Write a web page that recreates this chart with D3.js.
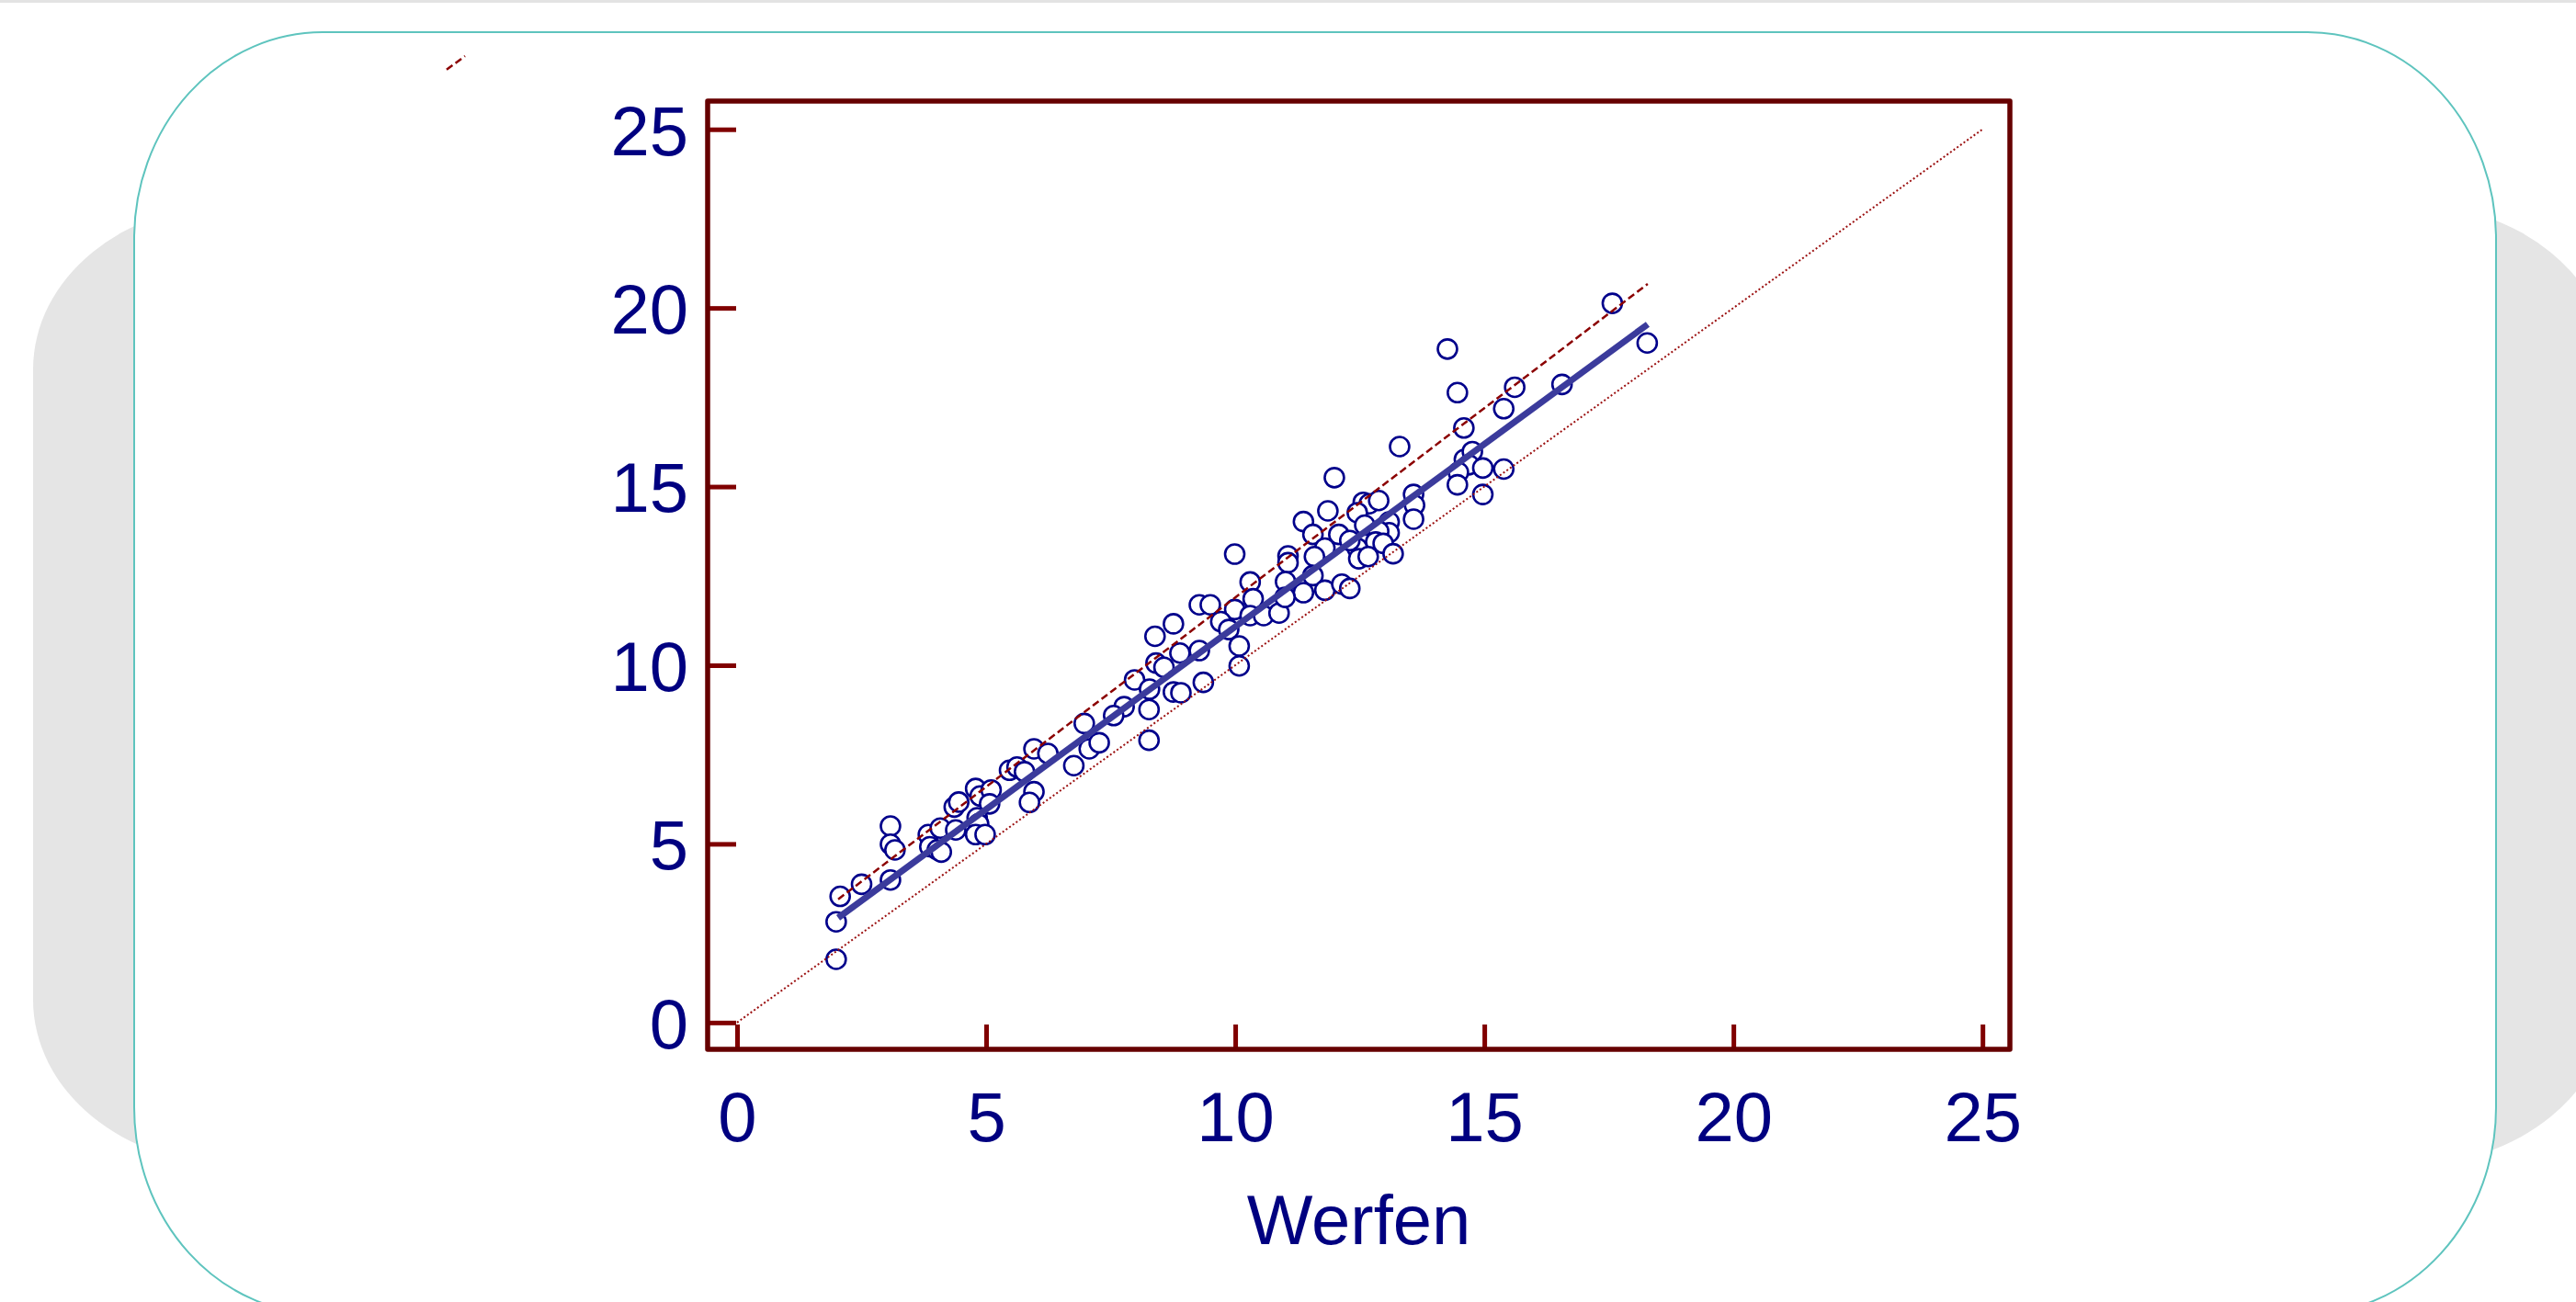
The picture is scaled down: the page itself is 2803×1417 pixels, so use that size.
<!DOCTYPE html>
<html>
<head>
<meta charset="utf-8">
<script src="https://cdn.jsdelivr.net/npm/d3@7"></script>
<style>
  html, body { margin: 0; padding: 0; background: #fff; overflow: hidden; }
</style>
</head>
<body>
<div id="main"></div>
<script>
// tick values
var xTicks = [0, 5, 10, 15, 20, 25];
var yTicks = [0, 5, 10, 15, 20, 25];
var xLabel = "Werfen";

// measurements: x = Werfen, y = comparison method
var werfen = [
  1.99, 1.99, 2.07, 2.50, 3.08, 3.08, 3.17, 3.08, 3.84, 3.87, 4.08, 4.02, 4.10, 4.39, 4.36, 4.45, 4.79,
  4.88, 5.10, 5.07, 4.82, 4.85, 4.79, 4.98, 5.96, 6.24, 5.47, 5.62, 5.77, 5.96, 5.87, 6.76, 7.07,
  9.99, 10.30, 10.36, 9.28, 9.50, 9.99, 10.30, 10.57, 9.71, 9.87, 8.76, 8.39, 8.89, 9.28, 10.08, 10.08,
  8.41, 8.57, 7.98, 8.28, 8.76, 8.91, 9.36, 8.27, 7.77, 7.56, 6.97, 7.27, 8.27,
  14.46, 15.61, 15.39, 14.59, 13.30, 11.99, 14.60, 14.76, 14.69, 14.48, 14.97, 15.39, 14.46, 14.97,
  13.58, 13.60, 13.58, 11.86, 11.37, 11.56, 12.57, 12.69, 12.88, 12.45, 12.60, 12.08, 13.09, 13.09,
  12.88, 12.82, 12.97, 13.17, 12.45, 12.48, 12.67, 12.30, 11.80, 11.59, 11.06, 11.06, 11.01, 11.56,
  11.37, 11.80, 12.14, 12.30, 10.88, 11.00,
  17.57, 18.27, 14.26, 16.56
];
var comparison = [
  1.77, 2.82, 3.53, 3.87, 5.50, 4.99, 4.83, 3.99, 5.26, 4.92, 5.44, 4.83, 4.77, 5.39, 6.03, 6.17, 6.55,
  6.34, 6.51, 6.12, 5.73, 5.56, 5.26, 5.26, 7.66, 7.53, 7.06, 7.15, 7.02, 6.46, 6.16, 7.19, 7.66,
  13.11, 12.33, 11.86, 11.69, 11.69, 11.56, 11.39, 11.39, 11.22, 11.00, 11.16, 10.81, 10.34, 10.41, 10.54, 9.98,
  10.06, 9.94, 9.59, 9.33, 9.25, 9.23, 9.52, 8.76, 8.84, 8.59, 8.37, 7.83, 7.90,
  17.63, 17.78, 17.18, 16.64, 16.12, 15.25, 15.76, 15.98, 15.61, 15.40, 15.52, 15.49, 15.05, 14.78,
  14.78, 14.48, 14.09, 14.32, 14.02, 13.66, 14.56, 14.52, 14.61, 14.27, 13.92, 13.66, 14.01, 13.71,
  13.75, 13.45, 13.41, 13.12, 13.28, 12.98, 13.04, 13.49, 13.28, 13.04, 13.06, 12.87, 12.34, 12.51,
  12.03, 12.10, 12.27, 12.15, 11.46, 11.90,
  20.13, 19.02, 18.85, 17.86
];

// reference lines (end points in data units)
var identityLine = [[0, 0], [25, 25]];
var fitLine = [[2.03, 2.93], [18.28, 19.54]];
var upperLine = [[2.03, 3.45], [18.28, 20.67]];
var strayLine = [[-5.83, 26.67], [-5.46, 27.05]];

var W = 2803, H = 1417;
var frame = {left: 770, right: 2187, top: 110, bottom: 1142};
var fontFam = "'Liberation Sans', Arial, sans-serif";

var svg = d3.select("#main")
    .append("svg")
    .attr("width", W)
    .attr("height", H);

// page backdrop: top strip, grey slab, white card
svg.append("rect")
    .attr("x", 0).attr("y", 0)
    .attr("width", W).attr("height", 3)
    .attr("fill", "#e3e3e3");

svg.append("rect")
    .attr("x", 36).attr("y", 222)
    .attr("width", 2804).attr("height", 1046)
    .attr("rx", 220).attr("ry", 180)
    .attr("fill", "#e5e5e5");

svg.append("rect")
    .attr("x", 146).attr("y", 35)
    .attr("width", 2570).attr("height", 1395)
    .attr("rx", 205).attr("ry", 225)
    .attr("fill", "#fff")
    .attr("stroke", "#5ec4be")
    .attr("stroke-width", 2);

var xScale = d3.scaleLinear()
    .domain([-0.59, 25.55])
    .range([frame.left, frame.right]);

var yScale = d3.scaleLinear()
    .domain([-0.75, 25.79])
    .range([frame.bottom, frame.top]);

// x axis, ticks pointing inward
var xAxis = d3.axisBottom(xScale)
    .tickValues(xTicks)
    .tickSize(-27)
    .tickPadding(46)
    .tickFormat(d3.format("d"));

var gx = svg.append("g")
    .attr("transform", "translate(0," + frame.bottom + ")")
    .call(xAxis);

// y axis
var yAxis = d3.axisLeft(yScale)
    .tickValues(yTicks)
    .tickSize(-31)
    .tickPadding(21)
    .tickFormat(d3.format("d"));

var gy = svg.append("g")
    .attr("transform", "translate(" + frame.left + ",0)")
    .call(yAxis);

[gx, gy].forEach(function(g) {
  g.select(".domain").remove();
  g.selectAll(".tick line")
      .attr("stroke", "#800000")
      .attr("stroke-width", 5);
  g.selectAll(".tick text")
      .attr("fill", "#000080")
      .style("font-family", fontFam)
      .style("font-size", "76px");
});
gy.selectAll(".tick text").attr("dy", "0.36em");

// points
svg.append("g")
    .selectAll("circle")
    .data(d3.zip(werfen, comparison))
    .enter()
    .append("circle")
    .attr("cx", function(d) { return xScale(d[0]); })
    .attr("cy", function(d) { return yScale(d[1]); })
    .attr("r", 10.5)
    .attr("fill", "#fff")
    .attr("stroke", "#00008b")
    .attr("stroke-width", 2.6);

var line = d3.line()
    .x(function(d) { return xScale(d[0]); })
    .y(function(d) { return yScale(d[1]); });

// line of identity
svg.append("path")
    .datum(identityLine)
    .attr("d", line)
    .attr("fill", "none")
    .attr("stroke", "#9b1010")
    .attr("stroke-width", 2)
    .attr("stroke-dasharray", "2,2.5");

// upper limit
svg.append("path")
    .datum(upperLine)
    .attr("d", line)
    .attr("fill", "none")
    .attr("stroke", "#8b0000")
    .attr("stroke-width", 2.5)
    .attr("stroke-dasharray", "8,4");

svg.append("path")
    .datum(strayLine)
    .attr("d", line)
    .attr("fill", "none")
    .attr("stroke", "#8b0000")
    .attr("stroke-width", 2.5)
    .attr("stroke-dasharray", "8,4");

// fitted line
svg.append("path")
    .datum(fitLine)
    .attr("d", line)
    .attr("fill", "none")
    .attr("stroke", "#3b3b9c")
    .attr("stroke-width", 7);

// frame
svg.append("rect")
    .attr("x", frame.left).attr("y", frame.top)
    .attr("width", frame.right - frame.left)
    .attr("height", frame.bottom - frame.top)
    .attr("fill", "none")
    .attr("stroke", "#660000")
    .attr("stroke-width", 5.5)
    .attr("stroke-linejoin", "round");

// axis title
svg.append("text")
    .attr("x", (frame.left + frame.right) / 2)
    .attr("y", 1354)
    .attr("text-anchor", "middle")
    .attr("fill", "#000080")
    .style("font-family", fontFam)
    .style("font-size", "76px")
    .text(xLabel);
</script>
</body>
</html>
